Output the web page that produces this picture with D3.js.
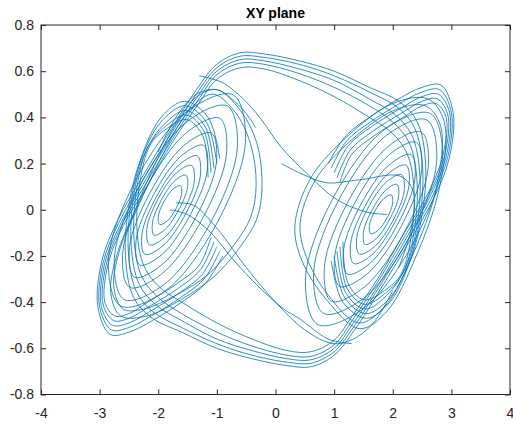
<!DOCTYPE html>
<html>
<head>
<meta charset="utf-8">
<script src="https://cdn.jsdelivr.net/npm/d3@7"></script>
<style>
    body { margin: 0; background: #fff; }
    .graph__axis text { font-family: "Liberation Sans", Arial, sans-serif; font-size: 14px; fill: #262626; }
    .graph__axis line { stroke: #262626; }
    .graph__title { font-family: "Liberation Sans", Arial, sans-serif; font-size: 14px; font-weight: bold; fill: #000; }
</style>
</head>
<body>
<div id="chart"></div>
<script>
const title = "XY plane"
const xTicks = [-4, -3, -2, -1, 0, 1, 2, 3, 4]
const yTicks = [-0.8, -0.6, -0.4, -0.2, 0, 0.2, 0.4, 0.6, 0.8]

// spiral loops around the left equilibrium
const leftLoops = [
    [[-1.624, 0.104], [-1.601, 0.069], [-1.695, 0.006], [-1.850, -0.049], [-1.976, -0.064], [-1.999, -0.029], [-1.905, 0.034], [-1.750, 0.089]],
    [[-1.528, 0.150], [-1.501, 0.097], [-1.650, 0.000], [-1.886, -0.086], [-2.072, -0.110], [-2.099, -0.057], [-1.951, 0.040], [-1.714, 0.126]],
    [[-1.430, 0.192], [-1.386, 0.121], [-1.579, -0.008], [-1.896, -0.121], [-2.150, -0.152], [-2.194, -0.081], [-2.001, 0.048], [-1.684, 0.161]],
    [[-1.332, 0.233], [-1.282, 0.146], [-1.524, -0.014], [-1.916, -0.155], [-2.228, -0.193], [-2.278, -0.106], [-2.036, 0.054], [-1.644, 0.195]],
    [[-1.226, 0.279], [-1.162, 0.173], [-1.454, -0.022], [-1.932, -0.193], [-2.314, -0.239], [-2.378, -0.133], [-2.086, 0.062], [-1.608, 0.233]],
    [[-1.094, 0.332], [-1.009, 0.203], [-1.359, -0.033], [-1.937, -0.238], [-2.406, -0.292], [-2.491, -0.163], [-2.141, 0.073], [-1.563, 0.278]],
    [[-0.952, 0.396], [-0.836, 0.242], [-1.238, -0.035], [-1.922, -0.274], [-2.488, -0.336], [-2.604, -0.182], [-2.202, 0.095], [-1.518, 0.334]],
    [[-0.820, 0.449], [-0.651, 0.269], [-1.098, -0.051], [-1.897, -0.323], [-2.580, -0.389], [-2.749, -0.209], [-2.302, 0.111], [-1.503, 0.383]],
    [[-0.720, 0.497], [-0.512, 0.297], [-0.988, -0.053], [-1.870, -0.349], [-2.640, -0.417], [-2.848, -0.217], [-2.372, 0.133], [-1.490, 0.429]],
    [[-1.000, 0.520], [-0.600, 0.430], [-0.320, 0.290], [-0.230, 0.100], [-0.320, -0.040], [-0.600, -0.160], [-1.050, -0.290], [-1.620, -0.390],
     [-2.190, -0.460], [-2.640, -0.460], [-2.810, -0.360], [-2.700, -0.190], [-2.410, -0.010], [-2.070, 0.190], [-1.680, 0.380], [-1.340, 0.490]],
    [[-1.050, 0.500], [-0.680, 0.420], [-0.420, 0.280], [-0.330, 0.110], [-0.420, -0.030], [-0.700, -0.150], [-1.150, -0.280], [-1.700, -0.370],
     [-2.250, -0.430], [-2.600, -0.430], [-2.760, -0.330], [-2.640, -0.160], [-2.350, 0.010], [-2.000, 0.200], [-1.640, 0.370], [-1.320, 0.470]]
]

// spiral loops around the right equilibrium
const rightLoops = [
    [[1.624, -0.104], [1.601, -0.069], [1.695, -0.006], [1.850, 0.049], [1.976, 0.064], [1.999, 0.029], [1.905, -0.034], [1.750, -0.089]],
    [[1.528, -0.150], [1.501, -0.097], [1.650, 0.000], [1.886, 0.086], [2.072, 0.110], [2.099, 0.057], [1.951, -0.040], [1.714, -0.126]],
    [[1.430, -0.192], [1.386, -0.121], [1.579, 0.008], [1.896, 0.121], [2.150, 0.152], [2.194, 0.081], [2.001, -0.048], [1.684, -0.161]],
    [[1.332, -0.233], [1.282, -0.146], [1.524, 0.014], [1.916, 0.155], [2.228, 0.193], [2.278, 0.106], [2.036, -0.054], [1.644, -0.195]],
    [[1.226, -0.279], [1.162, -0.173], [1.454, 0.022], [1.932, 0.193], [2.314, 0.239], [2.378, 0.133], [2.086, -0.062], [1.608, -0.233]],
    [[1.094, -0.332], [1.009, -0.203], [1.359, 0.033], [1.937, 0.238], [2.406, 0.292], [2.491, 0.163], [2.141, -0.073], [1.563, -0.278]],
    [[0.952, -0.396], [0.836, -0.242], [1.238, 0.035], [1.922, 0.274], [2.488, 0.336], [2.604, 0.182], [2.202, -0.095], [1.518, -0.334]],
    [[0.820, -0.449], [0.651, -0.269], [1.098, 0.051], [1.897, 0.323], [2.580, 0.389], [2.749, 0.209], [2.302, -0.111], [1.503, -0.383]],
    [[0.720, -0.497], [0.512, -0.297], [0.988, 0.053], [1.870, 0.349], [2.640, 0.417], [2.848, 0.217], [2.372, -0.133], [1.490, -0.429]],
    [[0.330, -0.070], [0.585, 0.130], [1.150, 0.300], [2.000, 0.460], [2.600, 0.480], [2.880, 0.380], [2.800, 0.100], [2.400, -0.200],
     [1.900, -0.440], [1.440, -0.515], [0.870, -0.390], [0.450, -0.220]],
    [[0.420, -0.060], [0.660, 0.120], [1.200, 0.280], [2.020, 0.430], [2.560, 0.450], [2.820, 0.360], [2.740, 0.090], [2.350, -0.190],
     [1.860, -0.420], [1.420, -0.490], [0.900, -0.370], [0.520, -0.200]]
]

// left scroll outer edge -> top band -> round the right scroll
const topBand = [
    [[-0.90, -0.20], [-1.20, -0.32], [-1.60, -0.40], [-2.10, -0.48], [-2.50, -0.53], [-2.82, -0.54], [-3.03, -0.42], [-2.96, -0.22], [-2.70, -0.05], [-2.30, 0.13],
     [-1.80, 0.34], [-1.35, 0.52], [-1.00, 0.63], [-0.60, 0.680], [-0.20, 0.675], [0.40, 0.645], [1.00, 0.60], [1.60, 0.53], [2.10, 0.47], [2.42, 0.38],
     [2.56, 0.20], [2.50, -0.02], [2.30, -0.22], [1.95, -0.40], [1.55, -0.47], [1.15, -0.40], [0.95, -0.22]],
    [[-0.95, -0.18], [-1.22, -0.30], [-1.62, -0.38], [-2.12, -0.46], [-2.50, -0.51], [-2.80, -0.52], [-3.00, -0.42], [-2.94, -0.23], [-2.68, -0.06], [-2.28, 0.12],
     [-1.78, 0.33], [-1.34, 0.505], [-1.00, 0.615], [-0.60, 0.665], [-0.20, 0.660], [0.40, 0.630], [1.00, 0.58], [1.60, 0.51], [2.10, 0.44], [2.38, 0.35],
     [2.51, 0.18], [2.46, -0.04], [2.26, -0.24], [1.92, -0.39], [1.54, -0.45], [1.18, -0.38], [1.00, -0.20]],
    [[-1.00, -0.16], [-1.25, -0.28], [-1.64, -0.36], [-2.14, -0.44], [-2.50, -0.49], [-2.78, -0.50], [-2.97, -0.42], [-2.92, -0.24], [-2.66, -0.07], [-2.26, 0.11],
     [-1.77, 0.32], [-1.33, 0.49], [-1.00, 0.600], [-0.60, 0.650], [-0.20, 0.645], [0.40, 0.610], [1.00, 0.56], [1.60, 0.48], [2.05, 0.41], [2.33, 0.32],
     [2.46, 0.16], [2.42, -0.06], [2.22, -0.25], [1.90, -0.37], [1.53, -0.43], [1.20, -0.36], [1.05, -0.18]],
    [[-1.05, -0.14], [-1.28, -0.26], [-1.66, -0.34], [-2.16, -0.42], [-2.50, -0.47], [-2.76, -0.48], [-2.94, -0.41], [-2.89, -0.24], [-2.63, -0.07], [-2.24, 0.10],
     [-1.75, 0.31], [-1.32, 0.475], [-1.00, 0.585], [-0.60, 0.635], [-0.20, 0.630], [0.40, 0.590], [1.00, 0.53], [1.60, 0.45], [2.00, 0.38], [2.28, 0.29],
     [2.41, 0.14], [2.38, -0.07], [2.18, -0.27], [1.88, -0.36], [1.52, -0.41], [1.22, -0.34], [1.10, -0.16]],
    [[-1.10, -0.12], [-1.30, -0.24], [-1.68, -0.32], [-2.18, -0.40], [-2.50, -0.45], [-2.74, -0.46], [-2.91, -0.40], [-2.86, -0.24], [-2.60, -0.07], [-2.22, 0.09],
     [-1.74, 0.30], [-1.31, 0.46], [-1.00, 0.565], [-0.60, 0.615], [-0.20, 0.610], [0.40, 0.560], [1.00, 0.49], [1.60, 0.40], [2.00, 0.33], [2.25, 0.24],
     [2.36, 0.10], [2.33, -0.09], [2.14, -0.28], [1.86, -0.35], [1.51, -0.39], [1.24, -0.32], [1.15, -0.14]]
]

// right scroll outer edge -> bottom band -> round the left scroll
const bottomBand = [
    [[0.90, 0.20], [1.20, 0.32], [1.60, 0.40], [2.10, 0.48], [2.50, 0.53], [2.82, 0.54], [3.03, 0.42], [2.96, 0.22], [2.70, 0.05], [2.30, -0.13],
     [1.80, -0.34], [1.35, -0.52], [1.00, -0.63], [0.60, -0.680], [0.20, -0.675], [-0.40, -0.645], [-1.00, -0.60], [-1.60, -0.53], [-2.10, -0.47], [-2.42, -0.38],
     [-2.56, -0.20], [-2.50, 0.02], [-2.30, 0.22], [-1.95, 0.40], [-1.55, 0.47], [-1.15, 0.40], [-0.95, 0.22]],
    [[0.95, 0.18], [1.22, 0.30], [1.62, 0.38], [2.12, 0.46], [2.50, 0.51], [2.80, 0.52], [3.00, 0.42], [2.94, 0.23], [2.68, 0.06], [2.28, -0.12],
     [1.78, -0.33], [1.34, -0.505], [1.00, -0.615], [0.60, -0.665], [0.20, -0.660], [-0.40, -0.630], [-1.00, -0.58], [-1.60, -0.51], [-2.10, -0.44], [-2.38, -0.35],
     [-2.51, -0.18], [-2.46, 0.04], [-2.26, 0.24], [-1.92, 0.39], [-1.54, 0.45], [-1.18, 0.38], [-1.00, 0.20]],
    [[1.00, 0.16], [1.25, 0.28], [1.64, 0.36], [2.14, 0.44], [2.50, 0.49], [2.78, 0.50], [2.97, 0.42], [2.92, 0.24], [2.66, 0.07], [2.26, -0.11],
     [1.77, -0.32], [1.33, -0.49], [1.00, -0.600], [0.60, -0.650], [0.20, -0.645], [-0.40, -0.610], [-1.00, -0.56], [-1.60, -0.48], [-2.05, -0.41], [-2.33, -0.32],
     [-2.46, -0.16], [-2.42, 0.06], [-2.22, 0.25], [-1.90, 0.37], [-1.53, 0.43], [-1.20, 0.36], [-1.05, 0.18]],
    [[1.05, 0.14], [1.28, 0.26], [1.66, 0.34], [2.16, 0.42], [2.50, 0.47], [2.76, 0.48], [2.94, 0.41], [2.89, 0.24], [2.63, 0.07], [2.24, -0.10],
     [1.75, -0.31], [1.32, -0.475], [1.00, -0.585], [0.60, -0.635], [0.20, -0.630], [-0.40, -0.590], [-1.00, -0.53], [-1.60, -0.45], [-2.00, -0.38], [-2.28, -0.29],
     [-2.41, -0.14], [-2.38, 0.07], [-2.18, 0.27], [-1.88, 0.36], [-1.52, 0.41], [-1.22, 0.34], [-1.10, 0.16]],
    [[1.10, 0.12], [1.30, 0.24], [1.68, 0.32], [2.18, 0.40], [2.50, 0.45], [2.74, 0.46], [2.91, 0.40], [2.86, 0.24], [2.60, 0.07], [2.22, -0.09],
     [1.74, -0.30], [1.31, -0.46], [1.00, -0.565], [0.60, -0.615], [0.20, -0.610], [-0.40, -0.560], [-1.00, -0.49], [-1.60, -0.40], [-2.00, -0.33], [-2.25, -0.24],
     [-2.36, -0.10], [-2.33, 0.09], [-2.14, 0.28], [-1.86, 0.35], [-1.51, 0.39], [-1.24, 0.32], [-1.15, 0.14]]
]

// crossings through the middle and the two loose ends
const crossLines = [
    [[-1.30, 0.58], [-0.90, 0.55], [-0.55, 0.48], [-0.27, 0.40], [0.10, 0.27], [0.585, 0.145], [1.04, 0.045], [1.55, -0.01], [1.90, -0.02]],
    [[1.30, -0.58], [0.90, -0.56], [0.40, -0.47], [0.14, -0.43], [-0.30, -0.33], [-0.71, -0.22], [-1.10, -0.10], [-1.51, -0.02], [-1.80, 0.00]],
    [[-1.70, 0.03], [-1.40, 0.02], [-1.00, -0.08], [-0.50, -0.25], [0.00, -0.40], [0.50, -0.52], [1.00, -0.58], [1.40, -0.55], [1.70, -0.48], [2.00, -0.35]],
    [[-2.00, 0.25], [-1.70, 0.40], [-1.35, 0.50], [-1.00, 0.52], [-0.70, 0.47], [-0.45, 0.40], [-0.34, 0.355]],
    [[0.10, 0.20], [0.45, 0.155], [0.87, 0.117], [1.44, 0.13], [2.12, 0.146], [2.35, 0.08], [2.30, -0.10], [2.10, -0.25]]
]

const config = {
    container: "#chart",
    width: 513,
    height: 425,
    margin: { top: 25, right: 3, bottom: 30.5, left: 41 },
    color: "#0072BD"
}
const margin = config.margin
const width = config.width - margin.left - margin.right
const height = config.height - margin.top - margin.bottom

const svg = d3.select(config.container)
    .append("svg")
    .attr("width", config.width)
    .attr("height", config.height)
    .append("g")
    .attr("transform", `translate(${margin.left}, ${margin.top})`)

const x = d3.scaleLinear().domain([-4, 4]).range([0, width])
const y = d3.scaleLinear().domain([-0.8, 0.8]).range([height, 0])

/* TRAJECTORY */
const closedLine = d3.line()
    .x(d => x(d[0]))
    .y(d => y(d[1]))
    .curve(d3.curveCatmullRomClosed.alpha(0.5))
const openLine = d3.line()
    .x(d => x(d[0]))
    .y(d => y(d[1]))
    .curve(d3.curveCatmullRom.alpha(0.5))

const plot = svg.append("g")
    .attr("fill", "none")
    .attr("stroke", config.color)
    .attr("stroke-width", 0.9)
    .attr("stroke-opacity", 0.9)

plot.selectAll(".graph__loop")
    .data([...leftLoops, ...rightLoops])
    .enter()
    .append("path")
    .attr("class", "graph__loop")
    .attr("d", closedLine)

plot.selectAll(".graph__strand")
    .data([...topBand, ...bottomBand, ...crossLines])
    .enter()
    .append("path")
    .attr("class", "graph__strand")
    .attr("d", openLine)

/* AXES - ticks point inward, box on all four sides */
const fmt = d => d === 0 ? "0" : String(d)
svg.append("g")
    .attr("class", "graph__axis")
    .attr("transform", `translate(0, ${height})`)
    .call(d3.axisBottom(x).tickValues(xTicks).tickFormat(fmt).tickSizeInner(-5).tickSizeOuter(0).tickPadding(13.5))
svg.append("g")
    .attr("class", "graph__axis")
    .call(d3.axisLeft(y).tickValues(yTicks).tickFormat(fmt).tickSizeInner(-5).tickSizeOuter(0).tickPadding(7))
svg.append("g")
    .attr("class", "graph__axis")
    .call(d3.axisTop(x).tickValues(xTicks).tickFormat("").tickSizeInner(-5).tickSizeOuter(0))
svg.append("g")
    .attr("class", "graph__axis")
    .attr("transform", `translate(${width}, 0)`)
    .call(d3.axisRight(y).tickValues(yTicks).tickFormat("").tickSizeInner(-5).tickSizeOuter(0))
svg.selectAll(".graph__axis .domain").remove()

svg.append("rect")
    .attr("x", 0)
    .attr("y", 0)
    .attr("width", width)
    .attr("height", height)
    .attr("fill", "none")
    .attr("stroke", "#262626")
    .attr("stroke-width", 1)

svg.append("text")
    .attr("class", "graph__title")
    .attr("x", width / 2)
    .attr("y", -7.5)
    .attr("text-anchor", "middle")
    .text(title)
</script>
</body>
</html>
